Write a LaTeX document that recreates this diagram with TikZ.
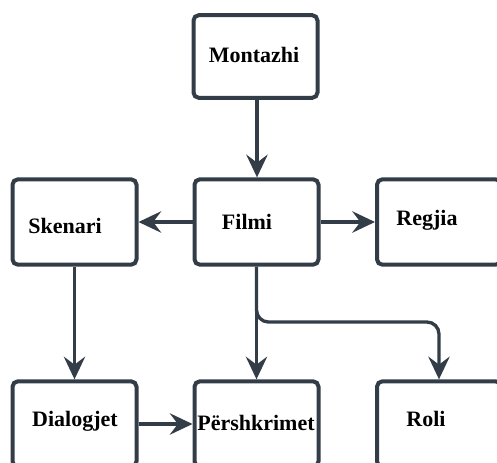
\documentclass[tikz,border=0pt]{standalone}
\usepackage{fontspec}
\setmainfont{Liberation Serif}
\newfontfamily\lblfont{Liberation Serif}
\usetikzlibrary{arrows.meta}
\definecolor{ink}{HTML}{333D48}
\tikzset{
  box/.style={draw=ink, line width=3pt, rounded corners=4pt, fill=white,
    minimum width=93pt, minimum height=64pt, inner sep=0pt},
  lbl/.style={font=\lblfont\fontsize{16.5}{19}\selectfont\bfseries, text=black, inner sep=0pt},
  conn/.style={draw=ink, line width=2.5pt, -{Stealth[length=17pt,width=16pt,inset=6pt]}}
}
\begin{document}
\begin{tikzpicture}[x=0.75pt,y=-0.75pt]
\useasboundingbox (0,0) rectangle (497,462);
\clip (0,0) rectangle (497,462);
\fill[white] (0,0) rectangle (497,462);
% boxes
\node[box, minimum height=62pt] (montazhi) at (255.5,56.5) {};
\node[box] (filmi) at (256.5,222) {};
\node[box] (skenari) at (74.5,222) {};
\node[box] (regjia) at (439,222) {};
\node[box] (dialogjet) at (74.5,424) {};
\node[box] (pershkrimet) at (256.5,424) {};
\node[box] (roli) at (439,424) {};
% labels
\node[lbl] (tmontazhi) at (254,55) {Montazhi};
\node[lbl] (tfilmi) at (247,222) {Filmi};
\node[lbl] (tskenari) at (65,226) {Skenari};
\node[lbl] (tregjia) at (427,220) {Regjia};
\node[lbl] (tdialogjet) at (75,421) {Dialogjet};
\node[lbl] (tpershkrimet) at (256,423) {Përshkrimet};
\node[lbl] (troli) at (426,419) {Roli};
% connectors
\draw[conn] (montazhi.south -| 257,0) -- (filmi.north -| 257,0);
\draw[conn] (filmi.west) -- (skenari.east);
\draw[conn] (filmi.east) -- (regjia.west);
\draw[conn] (skenari.south) -- (dialogjet.north);
\draw[conn] (filmi.south) -- (pershkrimet.north);
\coordinate (bend) at (439,322);
\draw[conn, rounded corners=9pt] (filmi.south) |- (bend) -- (roli.north);
\draw[conn] (dialogjet.east) -- (pershkrimet.west);
\end{tikzpicture}
\end{document}
